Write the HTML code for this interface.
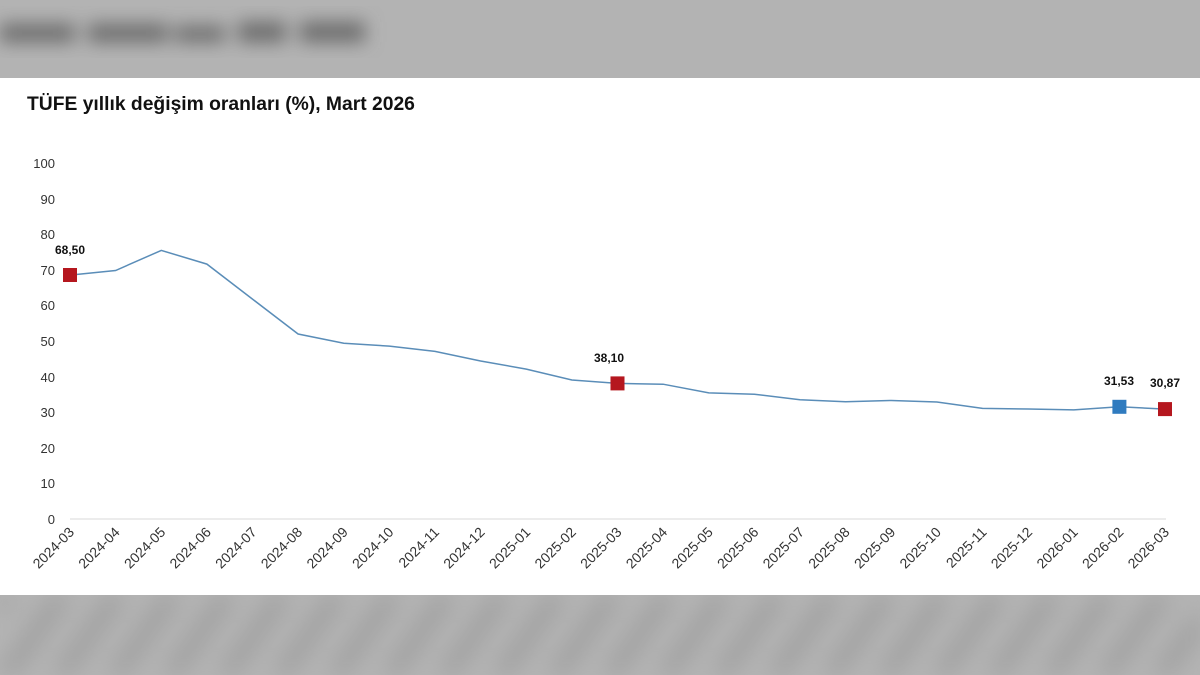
<!DOCTYPE html>
<html><head><meta charset="utf-8"><style>
html,body{margin:0;padding:0;width:1200px;height:675px;overflow:hidden;background:#fff;font-family:"Liberation Sans",sans-serif}
</style></head><body>
<svg width="1200" height="675" xmlns="http://www.w3.org/2000/svg" font-family="Liberation Sans, sans-serif">
<defs>
<filter id="b" x="-30%" y="-80%" width="160%" height="260%"><feGaussianBlur stdDeviation="9"/></filter>
<filter id="b2"><feGaussianBlur stdDeviation="12"/></filter>
<pattern id="st" width="55" height="80" patternUnits="userSpaceOnUse" patternTransform="skewX(-35)">
<rect width="55" height="80" fill="#b4b4b4"/><rect x="30" width="18" height="80" fill="#9a9a9a"/></pattern>
</defs>
<rect x="0" y="0" width="1200" height="78" fill="#b3b3b3"/>
<g filter="url(#b)" fill="#6a6a6a">
<rect x="0" y="24" width="75" height="18"/><rect x="88" y="24" width="80" height="18"/><rect x="175" y="26" width="50" height="16"/><rect x="238" y="22" width="48" height="20"/><rect x="300" y="22" width="65" height="20"/>
</g>
<rect x="0" y="595" width="1200" height="80" fill="#b4b4b4"/>
<rect x="0" y="595" width="1200" height="80" fill="url(#st)" filter="url(#b2)"/>
<rect x="0" y="78" width="1200" height="517" fill="#fff"/>
<text x="27" y="110" font-size="19.3" font-weight="bold" fill="#111">TÜFE yıllık değişim oranları (%), Mart 2026</text>
<g font-size="13" fill="#333" text-anchor="end">
<text x="55" y="524">0</text><text x="55" y="488">10</text><text x="55" y="453">20</text><text x="55" y="417">30</text><text x="55" y="382">40</text><text x="55" y="346">50</text><text x="55" y="310">60</text><text x="55" y="275">70</text><text x="55" y="239">80</text><text x="55" y="204">90</text><text x="55" y="168">100</text>
</g>
<line x1="70" y1="519" x2="1166" y2="519" stroke="#d9d9d9" stroke-width="1"/>
<g font-size="14" fill="#333" text-anchor="end">
<text transform="translate(75,533) rotate(-45)">2024-03</text>
<text transform="translate(120.6,533) rotate(-45)">2024-04</text>
<text transform="translate(166.3,533) rotate(-45)">2024-05</text>
<text transform="translate(211.9,533) rotate(-45)">2024-06</text>
<text transform="translate(257.5,533) rotate(-45)">2024-07</text>
<text transform="translate(303.1,533) rotate(-45)">2024-08</text>
<text transform="translate(348.8,533) rotate(-45)">2024-09</text>
<text transform="translate(394.4,533) rotate(-45)">2024-10</text>
<text transform="translate(440,533) rotate(-45)">2024-11</text>
<text transform="translate(485.6,533) rotate(-45)">2024-12</text>
<text transform="translate(531.3,533) rotate(-45)">2025-01</text>
<text transform="translate(576.9,533) rotate(-45)">2025-02</text>
<text transform="translate(622.5,533) rotate(-45)">2025-03</text>
<text transform="translate(668.1,533) rotate(-45)">2025-04</text>
<text transform="translate(713.8,533) rotate(-45)">2025-05</text>
<text transform="translate(759.4,533) rotate(-45)">2025-06</text>
<text transform="translate(805,533) rotate(-45)">2025-07</text>
<text transform="translate(850.6,533) rotate(-45)">2025-08</text>
<text transform="translate(896.3,533) rotate(-45)">2025-09</text>
<text transform="translate(941.9,533) rotate(-45)">2025-10</text>
<text transform="translate(987.5,533) rotate(-45)">2025-11</text>
<text transform="translate(1033.1,533) rotate(-45)">2025-12</text>
<text transform="translate(1078.8,533) rotate(-45)">2026-01</text>
<text transform="translate(1124.4,533) rotate(-45)">2026-02</text>
<text transform="translate(1170,533) rotate(-45)">2026-03</text>
</g>
<polyline fill="none" stroke="#5a8db8" stroke-width="1.5" points="70,275.1 115.6,270.5 161.3,250.4 206.9,264.1 252.5,299.1 298.1,334 343.8,343.2 389.4,346.1 435,351.4 480.6,361 526.3,369.1 571.9,380 617.5,383.4 663.1,384.2 708.8,392.9 754.4,394.2 800,399.7 845.6,401.7 891.3,400.5 936.9,402 982.5,408.4 1028.1,409 1073.8,409.9 1119.4,406.8 1165,409.1"/>
<rect x="63" y="268" width="14" height="14" fill="#b5171f"/>
<rect x="610.5" y="376.4" width="14" height="14" fill="#b5171f"/>
<rect x="1112.4" y="399.8" width="14" height="14" fill="#2f7bbf"/>
<rect x="1158" y="402.1" width="14" height="14" fill="#b5171f"/>
<g font-size="12" font-weight="bold" fill="#111" text-anchor="middle">
<text x="70" y="254">68,50</text>
<text x="609" y="362">38,10</text>
<text x="1119" y="385">31,53</text>
<text x="1165" y="387">30,87</text>
</g>
</svg>
</body></html>
